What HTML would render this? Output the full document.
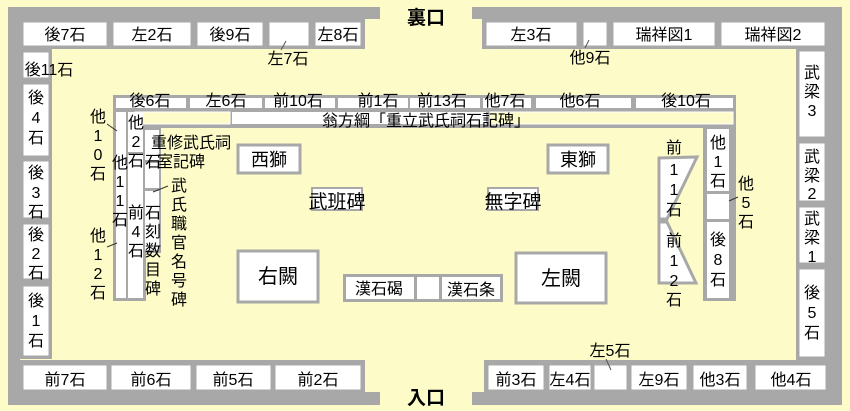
<!DOCTYPE html>
<html><head><meta charset="utf-8"><style>
html,body{margin:0;padding:0;background:#fdfcc8;}
svg{display:block}
text{font-family:"Liberation Sans","Noto Sans CJK JP",sans-serif;fill:#000;}
.w{fill:#fff;stroke:#a8a8a8;stroke-width:3}
.g{fill:#a8a8a8}
</style></head><body>
<svg width="850" height="411" viewBox="0 0 850 411" xmlns="http://www.w3.org/2000/svg">
<rect width="850" height="411" fill="#fdfcc8"/>
<rect class="g" x="8" y="7" width="372" height="12"/>
<rect class="g" x="8" y="7" width="12" height="398"/>
<rect class="g" x="20" y="19" width="345" height="30"/>
<rect class="g" x="20" y="49" width="32" height="310"/>
<rect class="g" x="8" y="392" width="372" height="13"/>
<rect class="g" x="20" y="360" width="345" height="33"/>
<rect class="g" x="472" y="7" width="370" height="12"/>
<rect class="g" x="830" y="7" width="12" height="398"/>
<rect class="g" x="482" y="19" width="348" height="30"/>
<rect class="g" x="796" y="49" width="34" height="312"/>
<rect class="g" x="472" y="392" width="370" height="13"/>
<rect class="g" x="484" y="360" width="346" height="33"/>
<g font-size="16" text-anchor="middle">
<rect class="w" x="22" y="21" width="86" height="26"/><text x="65" y="40">後7石</text>
<rect class="w" x="112" y="21" width="80" height="26"/><text x="152" y="40">左2石</text>
<rect class="w" x="196" y="21" width="68" height="26"/><text x="230" y="40">後9石</text>
<rect class="w" x="268" y="21" width="42" height="26"/>
<rect class="w" x="314" y="21" width="48" height="26"/><text x="338" y="40">左8石</text>
<line x1="286" y1="41" x2="281" y2="50" stroke="#555"/>
<text x="288" y="64">左7石</text>
<rect class="w" x="485" y="21" width="93" height="26"/><text x="531" y="40">左3石</text>
<rect class="w" x="582" y="21" width="26" height="26"/>
<rect class="w" x="612" y="21" width="104" height="26"/><text x="664" y="40">瑞祥図1</text>
<rect class="w" x="720" y="21" width="106" height="26"/><text x="773" y="40">瑞祥図2</text>
<line x1="589" y1="40" x2="585" y2="48" stroke="#555"/>
<text x="590" y="63">他9石</text>
<rect class="w" x="22" y="51" width="28" height="28"/>
<text x="49" y="75">後11石</text>
<rect class="w" x="22" y="83" width="28" height="74"/>
<text x="36" y="103">後</text><text x="36" y="123">4</text><text x="36" y="143">石</text>
<rect class="w" x="22" y="160" width="28" height="59"/>
<text x="36" y="178">後</text><text x="36" y="198">3</text><text x="36" y="217">石</text>
<rect class="w" x="22" y="223" width="28" height="57"/>
<text x="36" y="240">後</text><text x="36" y="259">2</text><text x="36" y="278">石</text>
<rect class="w" x="22" y="285" width="28" height="72"/>
<text x="36" y="306">後</text><text x="36" y="326">1</text><text x="36" y="346">石</text>
<rect class="w" x="798" y="50" width="28" height="88"/>
<text x="812" y="78">武</text><text x="812" y="97">梁</text><text x="812" y="116">3</text>
<rect class="w" x="798" y="142" width="28" height="60"/>
<text x="812" y="162">武</text><text x="812" y="181">梁</text><text x="812" y="199">2</text>
<rect class="w" x="798" y="206" width="28" height="58"/>
<text x="812" y="224">武</text><text x="812" y="243">梁</text><text x="812" y="262">1</text>
<rect class="w" x="798" y="268" width="28" height="90"/>
<text x="812" y="298">後</text><text x="812" y="318">5</text><text x="812" y="338">石</text>
<rect class="w" x="22" y="364" width="86" height="27"/><text x="65" y="385">前7石</text>
<rect class="w" x="110" y="364" width="82" height="27"/><text x="151" y="385">前6石</text>
<rect class="w" x="195" y="364" width="77" height="27"/><text x="233" y="385">前5石</text>
<rect class="w" x="274" y="364" width="88" height="27"/><text x="318" y="385">前2石</text>
<rect class="w" x="487" y="364" width="58" height="27"/><text x="516" y="385">前3石</text>
<rect class="w" x="548" y="364" width="44" height="27"/><text x="570" y="385">左4石</text>
<rect class="w" x="593" y="364" width="35" height="27"/>
<rect class="w" x="630" y="364" width="58" height="27"/><text x="659" y="385">左9石</text>
<rect class="w" x="692" y="364" width="56" height="27"/><text x="720" y="385">他3石</text>
<rect class="w" x="754" y="364" width="73" height="27"/><text x="791" y="385">他4石</text>
<line x1="606" y1="359" x2="611" y2="370" stroke="#555"/>
<text x="610" y="356">左5石</text>
</g>
<text x="426" y="24" font-size="19" font-weight="bold" text-anchor="middle">裏口</text>
<text x="426" y="404" font-size="19" font-weight="bold" text-anchor="middle">入口</text>
<rect class="g" x="113" y="95" width="623" height="33"/>
<rect class="g" x="113" y="95" width="33" height="206"/>
<rect class="g" x="143" y="110" width="18" height="143"/>
<rect class="g" x="703" y="95" width="33" height="206"/>
<g font-size="16" text-anchor="middle">
<rect x="116" y="98" width="70" height="10" fill="#fff"/>
<rect x="190" y="98" width="72" height="10" fill="#fff"/>
<rect x="265" y="98" width="70" height="10" fill="#fff"/>
<rect x="338" y="98" width="70" height="10" fill="#fff"/>
<rect x="410" y="98" width="70" height="10" fill="#fff"/>
<rect x="483" y="98" width="48" height="10" fill="#fff"/>
<rect x="536" y="98" width="95" height="10" fill="#fff"/>
<rect x="636" y="98" width="97" height="10" fill="#fff"/>
<text x="150" y="106">後6石</text><text x="226" y="106">左6石</text><text x="298" y="106">前10石</text>
<text x="378" y="106">前1石</text><text x="442" y="106">前13石</text><text x="505" y="106">他7石</text>
<text x="580" y="106">他6石</text><text x="686" y="106">後10石</text>
<rect x="135" y="112" width="95" height="12" fill="#fdfcc8" stroke="#fff"/>
<rect x="232" y="112" width="254" height="12" fill="#fff"/>
<rect x="490" y="112" width="243" height="12" fill="#fdfcc8" stroke="#fff"/>
<text x="426" y="126">翁方綱「重立武氏祠石記碑」</text>
<rect x="116" y="112" width="10" height="186" fill="#fff"/>
<rect x="128" y="112" width="15" height="40" fill="#fff"/>
<rect x="128" y="155" width="15" height="143" fill="#fff"/>
<rect x="145" y="130" width="14" height="30" fill="#fff"/>
<rect x="145" y="163" width="14" height="25" fill="#fff"/>
<rect x="145" y="191" width="14" height="59" fill="#fff"/>
<text x="136" y="128">他</text><text x="136" y="147">2</text><text x="136" y="166">石</text>
<text x="98" y="122">他</text><text x="98" y="141">1</text><text x="98" y="160">0</text><text x="98" y="179">石</text>
<line x1="107" y1="124" x2="117" y2="131" stroke="#333"/>
<text x="120" y="168">他</text><text x="120" y="187">1</text><text x="120" y="206">1</text><text x="120" y="225">石</text>
<text x="98" y="241">他</text><text x="98" y="260">1</text><text x="98" y="279">2</text><text x="98" y="298">石</text>
<line x1="107" y1="247" x2="117" y2="243" stroke="#333"/>
<text x="136" y="218">前</text><text x="136" y="237">4</text><text x="136" y="256">石</text>
<text x="153" y="218">石</text><text x="153" y="237">刻</text><text x="153" y="256">数</text><text x="153" y="275">目</text><text x="153" y="294">碑</text>
<text x="179" y="191">武</text><text x="179" y="210">氏</text><text x="179" y="229">職</text><text x="179" y="248">官</text><text x="179" y="267">名</text><text x="179" y="286">号</text><text x="179" y="305">碑</text>
<line x1="153" y1="192" x2="168" y2="186" stroke="#333"/>
<text x="191" y="148">重修武氏祠</text>
<text x="181" y="167">室記碑</text>
<text x="153" y="167">石</text>
<rect x="707" y="129" width="22" height="62" fill="#fff"/>
<rect x="707" y="194" width="22" height="25" fill="#fff"/>
<rect x="707" y="222" width="22" height="76" fill="#fff"/>
<text x="718" y="148">他</text><text x="718" y="167">1</text><text x="718" y="186">石</text>
<text x="718" y="245">後</text><text x="718" y="265">8</text><text x="718" y="285">石</text>
<text x="746" y="189">他</text><text x="746" y="208">5</text><text x="746" y="227">石</text>
<line x1="729" y1="201" x2="738" y2="197" stroke="#333"/>
<polygon points="659,158 697,157 667,219 659,219" fill="#fff" stroke="#a8a8a8" stroke-width="3"/>
<polygon points="659,222 667,222 696,283 659,283" fill="#fff" stroke="#a8a8a8" stroke-width="3"/>
<text x="674" y="153">前</text><text x="674" y="175">1</text><text x="674" y="195">1</text><text x="674" y="215">石</text>
<text x="674" y="246">前</text><text x="674" y="266">1</text><text x="674" y="286">2</text><text x="674" y="305">石</text>
</g>
<g text-anchor="middle">
<rect class="w" x="238" y="145" width="62" height="28"/><text x="269" y="166" font-size="18">西獅</text>
<rect class="w" x="548" y="145" width="60" height="28"/><text x="578" y="166" font-size="18">東獅</text>
<rect x="312" y="188" width="50" height="22" fill="#fff" stroke="#a8a8a8" stroke-width="2"/>
<text x="337" y="208" font-size="19">武班碑</text>
<rect x="488" y="188" width="50" height="22" fill="#fff" stroke="#a8a8a8" stroke-width="2"/>
<text x="513" y="208" font-size="19">無字碑</text>
<rect class="w" x="238" y="251" width="80" height="51"/><text x="278" y="283" font-size="20">右闕</text>
<rect class="w" x="516" y="253" width="90" height="50"/><text x="561" y="285" font-size="20">左闕</text>
<rect class="g" x="343" y="274" width="160" height="28"/>
<rect x="346" y="277" width="68" height="22" fill="#fff"/>
<rect x="417" y="277" width="22" height="22" fill="#fff"/>
<rect x="442" y="277" width="58" height="22" fill="#fff"/>
<text x="379" y="294" font-size="16">漢石碣</text>
<text x="471" y="295" font-size="16">漢石条</text>
</g>
</svg>
</body></html>
